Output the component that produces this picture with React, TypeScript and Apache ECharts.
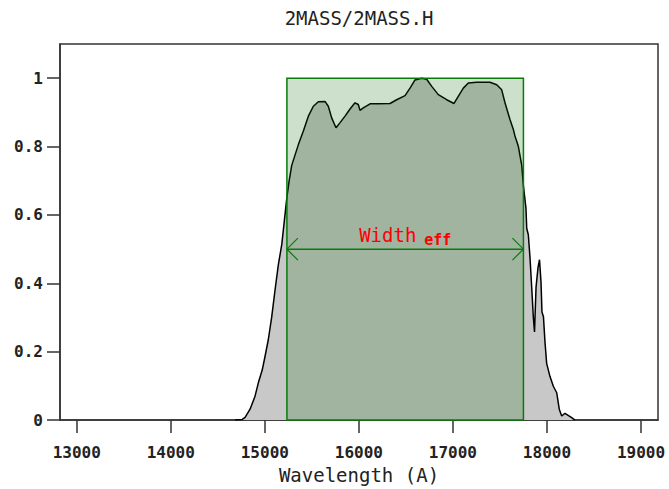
import { useEffect, useRef } from "react";
import * as echarts from "echarts";

// Relative spectral response of the 2MASS H filter (wavelength in Å)
const wavelengths = [
  14683, 14760, 14790, 14843, 14896, 14931, 14973, 15002, 15037, 15073,
  15108, 15144, 15180, 15207, 15233, 15257, 15286, 15321, 15356, 15409,
  15463, 15516, 15569, 15640, 15675, 15711, 15757, 15800, 15853, 15906,
  15959, 15994, 16012, 16047, 16119, 16207, 16331, 16402, 16491, 16544,
  16597, 16668, 16721, 16775, 16845, 16934, 17012, 17057, 17111, 17164,
  17253, 17394, 17466, 17519, 17554, 17607, 17642, 17660, 17695, 17732,
  17749, 17777, 17785, 17802, 17820, 17838, 17855, 17868, 17884, 17905,
  17921, 17937, 17947, 17963, 17979, 17997, 18032, 18068, 18104, 18131,
  18157, 18192, 18263, 18298,
];
const transmission = [
  0.0, 0.002, 0.008, 0.032, 0.07, 0.109, 0.147, 0.186, 0.235, 0.301,
  0.379, 0.455, 0.513, 0.581, 0.648, 0.697, 0.745, 0.775, 0.805, 0.845,
  0.889, 0.918, 0.931, 0.932, 0.918, 0.884, 0.855, 0.87, 0.889, 0.91,
  0.928, 0.923, 0.906, 0.913, 0.925, 0.925, 0.926, 0.937, 0.949, 0.971,
  0.995, 1.0, 0.997, 0.976, 0.952, 0.937, 0.926, 0.947, 0.971, 0.986,
  0.988, 0.988, 0.981, 0.966, 0.928, 0.879, 0.851, 0.831, 0.802, 0.745,
  0.687, 0.619, 0.561, 0.542, 0.475, 0.388, 0.302, 0.258, 0.388, 0.446,
  0.469, 0.403, 0.316, 0.302, 0.229, 0.166, 0.128, 0.099, 0.08, 0.032,
  0.012, 0.02, 0.0075, 0.0,
];

// Effective-width box: [λ start, λ end, height, arrow level]
const effBox = [15235, 17750, 1, 0.5];

const xTicks = [13000, 14000, 15000, 16000, 17000, 18000, 19000];
const yTicks = [0, 0.2, 0.4, 0.6, 0.8, 1];

const titleText = "2MASS/2MASS.H";
const xAxisName = "Wavelength (A)";

const MONO = '"DejaVu Sans Mono", monospace';
const AXIS_COLOR = "#333";
const BOX_GREEN = "#0a7a0a";

export default function App() {
  const ref = useRef<HTMLDivElement>(null);

  useEffect(() => {
    const chart = echarts.init(ref.current!, null, { renderer: "svg" });
    const curve = wavelengths.map((w, i) => [w, transmission[i]]);

    chart.setOption({
      animation: false,
      backgroundColor: "#fff",
      grid: {
        left: 60,
        right: 11,
        top: 44,
        bottom: 64,
        show: true,
        borderColor: AXIS_COLOR,
        borderWidth: 1.5,
        backgroundColor: "#fff",
      },
      graphic: [
        {
          type: "text",
          x: 359,
          y: 18,
          style: {
            text: titleText,
            font: `19px ${MONO}`,
            fill: "#222",
            align: "center",
            verticalAlign: "middle",
            textAlign: "center",
            textVerticalAlign: "middle",
          },
        },
      ],
      xAxis: {
        type: "value",
        min: 12822,
        max: 19181,
        name: xAxisName,
        nameLocation: "middle",
        nameGap: 41,
        nameTextStyle: { fontFamily: MONO, fontSize: 19, color: "#222" },
        axisLine: { show: true, onZero: false, lineStyle: { color: AXIS_COLOR, width: 1.5 } },
        axisTick: { show: true, customValues: xTicks, length: 13, lineStyle: { color: AXIS_COLOR, width: 1.5 } },
        axisLabel: {
          customValues: xTicks,
          formatter: (v: number) => String(v),
          margin: 24,
          fontFamily: MONO,
          fontWeight: "bold",
          fontSize: 16,
          color: "#222",
        },
        splitLine: { show: false },
      },
      yAxis: {
        type: "value",
        min: 0,
        max: 1.1,
        axisLine: { show: true, lineStyle: { color: AXIS_COLOR, width: 1.5 } },
        axisTick: { show: true, customValues: yTicks, length: 13, lineStyle: { color: AXIS_COLOR, width: 1.5 } },
        axisLabel: {
          customValues: yTicks,
          formatter: (v: number) => String(Math.round(v * 10) / 10),
          margin: 17,
          fontFamily: MONO,
          fontWeight: "bold",
          fontSize: 16,
          color: "#222",
        },
        splitLine: { show: false },
      },
      series: [
        {
          type: "line",
          data: curve,
          z: 1,
          symbol: "none",
          showSymbol: false,
          lineStyle: { color: "#000", width: 1.5 },
          areaStyle: { color: "#c8c8c8", opacity: 1 },
        },
        {
          type: "custom",
          z: 2,
          data: [effBox],
          encode: { x: [0, 1], y: [2, 3] },
          renderItem: (_params: any, api: any) => {
            const x0 = api.value(0);
            const x1 = api.value(1);
            const top = api.value(2);
            const mid = api.value(3);
            const tl = api.coord([x0, top]);
            const br = api.coord([x1, 0]);
            const l = api.coord([x0, mid]);
            const r = api.coord([x1, mid]);
            const cx = (l[0] + r[0]) / 2;
            const head = 11;
            return {
              type: "group",
              children: [
                {
                  type: "rect",
                  shape: { x: tl[0], y: tl[1], width: br[0] - tl[0], height: br[1] - tl[1] },
                  style: { fill: "rgba(0,100,0,0.2)", stroke: BOX_GREEN, lineWidth: 1.5 },
                },
                {
                  type: "line",
                  shape: { x1: l[0], y1: l[1], x2: r[0], y2: r[1] },
                  style: { stroke: BOX_GREEN, lineWidth: 1.5 },
                },
                {
                  type: "polyline",
                  shape: { points: [[l[0] + head, l[1] - head], [l[0], l[1]], [l[0] + head, l[1] + head]] },
                  style: { stroke: BOX_GREEN, lineWidth: 1.2, fill: "none" },
                },
                {
                  type: "polyline",
                  shape: { points: [[r[0] - head, r[1] - head], [r[0], r[1]], [r[0] - head, r[1] + head]] },
                  style: { stroke: BOX_GREEN, lineWidth: 1.2, fill: "none" },
                },
                {
                  type: "text",
                  x: cx - 46,
                  y: l[1] - 14,
                  style: {
                    text: "Width",
                    font: `19px ${MONO}`,
                    fill: "#ff0000",
                    align: "left",
                    verticalAlign: "middle",
                    textAlign: "left",
                    textVerticalAlign: "middle",
                  },
                },
                {
                  type: "text",
                  x: cx + 19,
                  y: l[1] - 9,
                  style: {
                    text: "eff",
                    font: `bold 15px ${MONO}`,
                    fill: "#ff0000",
                    align: "left",
                    verticalAlign: "middle",
                    textAlign: "left",
                    textVerticalAlign: "middle",
                  },
                },
              ],
            };
          },
        },
      ],
    });

    return () => chart.dispose();
  }, []);

  return (
    <div
      ref={ref}
      style={{ position: "fixed", left: 0, top: 0, width: 669, height: 489 }}
    />
  );
}
